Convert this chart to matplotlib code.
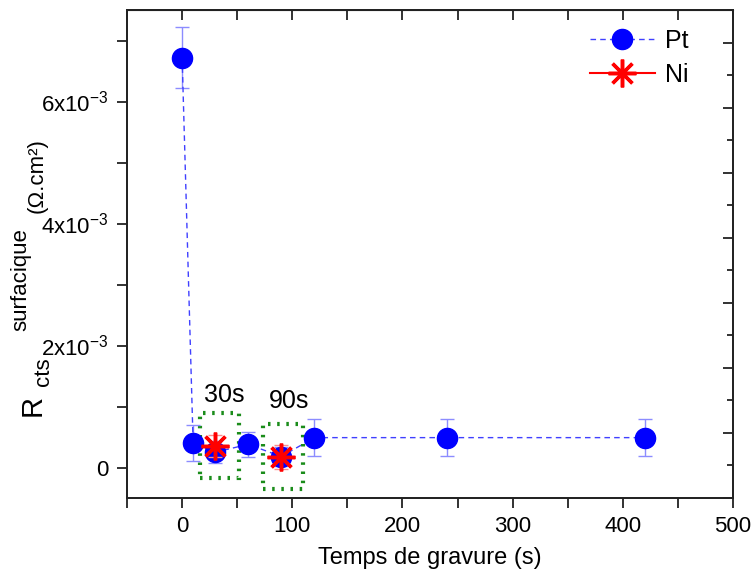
import numpy as np
import matplotlib
matplotlib.use("Agg")
import matplotlib.pyplot as plt
from matplotlib.ticker import MultipleLocator, FixedLocator, NullFormatter
from matplotlib.patches import Rectangle

plt.rcParams['font.family'] = ['Liberation Sans', 'DejaVu Sans']
plt.rcParams['mathtext.fontset'] = 'custom'
plt.rcParams['mathtext.rm'] = 'Liberation Sans'
plt.rcParams['mathtext.it'] = 'Liberation Sans'

# Pt data
pt_x = [0, 10, 30, 60, 90, 120, 240, 420]
pt_y = [6.72e-3, 0.40e-3, 0.25e-3, 0.38e-3, 0.18e-3, 0.49e-3, 0.49e-3, 0.49e-3]
pt_err = [0.50e-3, 0.30e-3, 0.18e-3, 0.20e-3, 0.15e-3, 0.30e-3, 0.30e-3, 0.30e-3]

# Ni data
ni_x = [30, 90]
ni_y = [0.36e-3, 0.17e-3]
ni_err = [0.18e-3, 0.20e-3]

# highlight boxes (x0, y0, x1, y1) and labels
boxes = [(16, -0.18e-3, 52, 0.89e-3), (73, -0.35e-3, 110, 0.72e-3)]
box_labels = ['30s', '90s']
label_pos = [(38, 1.19e-3), (97, 1.09e-3)]

ytick_vals = [0, 2e-3, 4e-3, 6e-3]
ytick_labels = ['0', r'2x10$^{\mathregular{-3}}$', r'4x10$^{\mathregular{-3}}$', r'6x10$^{\mathregular{-3}}$']

W, H = 753, 582
fig = plt.figure(figsize=(W / 100, H / 100), dpi=100)
ax = fig.add_axes([0.1687, 0.1443, 0.8047, 0.8385])

ax.errorbar(pt_x, pt_y, yerr=pt_err, fmt='none', ecolor='#8c8cff', elinewidth=1, capsize=5, capthick=1, zorder=2)
pt_line, = ax.plot(pt_x, pt_y, linestyle=(0, (4, 3)), color='#4040ff', linewidth=1,
                   marker='o', markersize=14.5, markerfacecolor='#0000ff', markeredgecolor='#0000ff', zorder=3)

ax.errorbar(ni_x, ni_y, yerr=ni_err, fmt='none', ecolor='#ff8c8c', elinewidth=1, capsize=5, capthick=1, zorder=4)
ax.plot(ni_x, ni_y, linestyle='none', color='red', marker=(8, 2, 0), markersize=20,
        markeredgewidth=2.5, markeredgecolor='red', zorder=5)
ni_handle = plt.Line2D([], [], color='red', linewidth=1.5, marker=(8, 2, 0), markersize=20,
                       markeredgewidth=2.5, markeredgecolor='red')

for (x0, y0, x1, y1), lab, (tx, ty) in zip(boxes, box_labels, label_pos):
    ax.add_patch(Rectangle((x0, y0), x1 - x0, y1 - y0, fill=False, edgecolor='#1a8c1a',
                           linestyle=(0, (0.6, 1.6)), linewidth=3, zorder=1))
    ax.text(tx, ty, lab, fontsize=18, ha='center', va='center')

ax.set_xlim(-50, 500)
ax.set_ylim(-0.5e-3, 7.5e-3)
ax.xaxis.set_major_locator(MultipleLocator(100))
ax.xaxis.set_minor_locator(MultipleLocator(50))
ax.yaxis.set_major_locator(FixedLocator(ytick_vals))
ax.set_yticklabels(ytick_labels)
ax.yaxis.set_minor_locator(MultipleLocator(1e-3))
ax.tick_params(axis='both', which='both', direction='out', labelsize=16, width=1.3, color='#222222')
ax.tick_params(axis='both', which='major', length=7, pad=6)
ax.tick_params(axis='both', which='minor', length=7)

ax.set_xlabel('Temps de gravure (s)', fontsize=17, labelpad=7)

# y label built from pieces (pixel positions from the top-left)
def ylab(x, y, s, size):
    fig.text(x / W, 1 - y / H, s, fontsize=size, rotation=90, ha='center', va='center')

ylab(33, 405, 'R', 21)
ylab(43, 372, 'cts', 16)
ylab(21, 280, 'surfacique', 16)
ylab(37, 176, '(Ω.cm²)', 16)

for s in ax.spines.values():
    s.set_linewidth(1.3)
    s.set_color('#222222')

# top ticks (inward)
top = ax.secondary_xaxis('top')
top.xaxis.set_major_locator(MultipleLocator(50))
top.xaxis.set_major_formatter(NullFormatter())
top.tick_params(direction='in', length=7, width=1.3, color='#222222')

# right ticks (inward, own scale)
right = ax.twinx()
right.set_ylim(0, 15)
right.yaxis.set_major_locator(MultipleLocator(2))
right.yaxis.set_minor_locator(MultipleLocator(1))
right.yaxis.set_major_formatter(NullFormatter())
right.tick_params(axis='y', which='major', direction='in', length=7, width=1.3, color='#222222')
right.tick_params(axis='y', which='minor', direction='in', length=4, width=1.3, color='#222222')
for s in right.spines.values():
    s.set_linewidth(1.3)
    s.set_color('#222222')

right.legend([pt_line, ni_handle], ['Pt', 'Ni'], loc='upper right', frameon=False, fontsize=18,
             handlelength=2.6, borderaxespad=0.3, labelspacing=0.4, handletextpad=0.4,
             bbox_to_anchor=(0.955, 0.997))

fig.savefig('out.png', dpi=100)
